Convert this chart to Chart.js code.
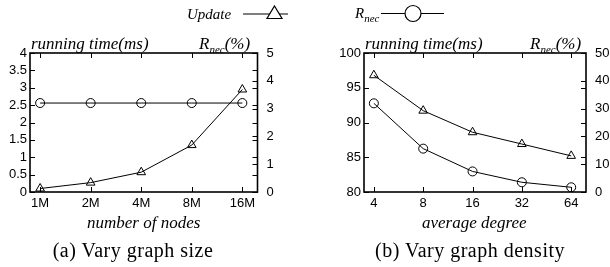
<!DOCTYPE html>
<html>
<head>
<meta charset="utf-8">
<script src="https://cdn.jsdelivr.net/npm/chart.js@4.4.0/dist/chart.umd.min.js"></script>
<style>
  body { margin: 0; background: #fff; width: 610px; height: 267px; overflow: hidden; position: relative; }
  .box { position: absolute; top: 0; width: 305px; height: 267px; }
  .txt { position: absolute; white-space: nowrap; font-family: "Liberation Serif", serif; font-style: italic; font-size: 17px; line-height: 17px; color: #000; }
  .txt sub { font-size: 11px; vertical-align: -4px; line-height: 0; }
  .cap { position: absolute; white-space: nowrap; font-family: "Liberation Serif", serif; font-size: 20px; line-height: 20px; letter-spacing: 0.5px; color: #000; text-align: center; width: 260px; }
  svg { position: absolute; left: 0; top: 0; }
</style>
</head>
<body>
<div class="box" style="left:0"><canvas id="sizeChart" width="305" height="267"></canvas></div>
<div class="box" style="left:305px"><canvas id="degreeChart" width="305" height="267"></canvas></div>

<svg width="610" height="30">
  <line x1="243" y1="14" x2="288" y2="14" stroke="#000" stroke-width="1.2"/>
  <polygon points="274.5,6 282,18.5 267,18.5" fill="#fff" stroke="#000" stroke-width="1.2"/>
  <line x1="381" y1="13.5" x2="444" y2="13.5" stroke="#000" stroke-width="1.2"/>
  <circle cx="413" cy="13.5" r="8" fill="#fff" stroke="#000" stroke-width="1.2"/>
</svg>
<div class="txt" style="left:187px;top:6px;font-size:15px">Update</div>
<div class="txt" style="left:355px;top:5px;font-size:15px">R<sub>nec</sub></div>

<div class="txt" style="left:31px;top:35px">running time(ms)</div>
<div class="txt" style="left:199px;top:35px">R<sub>nec</sub>(%)</div>
<div class="txt" style="left:365px;top:35px">running time(ms)</div>
<div class="txt" style="left:530px;top:35px">R<sub>nec</sub>(%)</div>

<div class="txt" style="left:87px;top:214px">number of nodes</div>
<div class="txt" style="left:422px;top:214px">average degree</div>

<div class="cap" style="left:3px;top:240px">(a) Vary graph size</div>
<div class="cap" style="left:340px;top:240px">(b) Vary graph density</div>

<script>
// (a) vary graph size
const sizeLabels = ['1M', '2M', '4M', '8M', '16M'];
const sizeUpdate = [0.1, 0.27, 0.57, 1.35, 2.95];
const sizeRnec = [3.2, 3.2, 3.2, 3.2, 3.2];
const sizeTimeAxis = [0, 4, 0.5];   // min, max, step
const sizeRnecAxis = [0, 5, 1];

// (b) vary graph density
const degreeLabels = ['4', '8', '16', '32', '64'];
const degreeUpdate = [96.8, 91.7, 88.6, 86.9, 85.2];
const degreeRnec = [31.9, 15.6, 7.4, 3.5, 1.7];
const degreeTimeAxis = [80, 100, 5];
const degreeRnecAxis = [0, 50, 10];

const tickFont = { family: '"Liberation Sans", Arial, sans-serif', size: 13 };

// gnuplot-like box with inward ticks
const framePlugin = {
  id: 'frame',
  afterDatasetsDraw(chart) {
    const { ctx, chartArea: a, scales } = chart;
    const len = 5;
    ctx.save();
    ctx.strokeStyle = '#000';
    ctx.lineWidth = 1;
    ctx.beginPath();
    scales.x.ticks.forEach(t => {
      const px = Math.round(scales.x.getPixelForValue(t.value)) + 0.5;
      ctx.moveTo(px, a.bottom); ctx.lineTo(px, a.bottom - len);
      ctx.moveTo(px, a.top); ctx.lineTo(px, a.top + len);
    });
    scales.y.ticks.forEach(t => {
      const py = Math.round(scales.y.getPixelForValue(t.value)) + 0.5;
      ctx.moveTo(a.left, py); ctx.lineTo(a.left + len, py);
      ctx.moveTo(a.right, py); ctx.lineTo(a.right - len, py);
    });
    scales.y2.ticks.forEach(t => {
      const py = Math.round(scales.y2.getPixelForValue(t.value)) + 0.5;
      ctx.moveTo(a.right, py); ctx.lineTo(a.right - len, py);
    });
    ctx.stroke();
    ctx.lineWidth = 1.6;
    ctx.strokeRect(a.left, a.top, a.right - a.left, a.bottom - a.top);
    ctx.restore();
  }
};

function makeChart(id, labels, update, rnec, timeAxis, rnecAxis, leftW, rightW) {
  const pts = arr => arr.map((v, i) => ({ x: i, y: v }));
  return new Chart(document.getElementById(id), {
    type: 'line',
    data: {
      datasets: [
        {
          label: 'Update',
          data: pts(update),
          yAxisID: 'y',
          borderColor: '#000',
          borderWidth: 1,
          pointStyle: 'triangle',
          pointRadius: 5,
          pointBorderWidth: 1,
          pointBackgroundColor: 'rgba(0,0,0,0)',
          pointBorderColor: '#000',
          clip: false,
        },
        {
          label: 'Rnec',
          data: pts(rnec),
          yAxisID: 'y2',
          borderColor: '#000',
          borderWidth: 1,
          pointStyle: 'circle',
          pointRadius: 4.5,
          pointBorderWidth: 1,
          pointBackgroundColor: 'rgba(0,0,0,0)',
          pointBorderColor: '#000',
          clip: false,
        },
      ],
    },
    options: {
      responsive: false,
      animation: false,
      devicePixelRatio: 1,
      layout: { padding: { top: 53, left: 0, right: 0, bottom: 0 } },
      plugins: { legend: { display: false }, tooltip: { enabled: false } },
      scales: {
        x: {
          type: 'linear',
          min: -0.2,
          max: 4.3,
          afterBuildTicks: s => { s.ticks = labels.map((_, i) => ({ value: i })); },
          afterFit: s => { s.height = 75; },
          ticks: { callback: v => labels[v], font: tickFont, color: '#000', padding: 4, maxRotation: 0, autoSkip: false },
          grid: { display: false, drawTicks: false },
          border: { display: false },
        },
        y: {
          position: 'left',
          min: timeAxis[0],
          max: timeAxis[1],
          afterFit: s => { s.width = leftW; },
          ticks: { stepSize: timeAxis[2], autoSkip: false, callback: v => String(v), font: tickFont, color: '#000', padding: 3 },
          grid: { display: false, drawTicks: false },
          border: { display: false },
        },
        y2: {
          position: 'right',
          min: rnecAxis[0],
          max: rnecAxis[1],
          afterFit: s => { s.width = rightW; },
          ticks: { stepSize: rnecAxis[2], autoSkip: false, callback: v => String(v), font: tickFont, color: '#000', padding: 9 },
          grid: { display: false, drawTicks: false },
          border: { display: false },
        },
      },
    },
    plugins: [framePlugin],
  });
}

makeChart('sizeChart', sizeLabels, sizeUpdate, sizeRnec, sizeTimeAxis, sizeRnecAxis, 30, 47.5);
makeChart('degreeChart', degreeLabels, degreeUpdate, degreeRnec, degreeTimeAxis, degreeRnecAxis, 59, 24);
</script>
</body>
</html>
